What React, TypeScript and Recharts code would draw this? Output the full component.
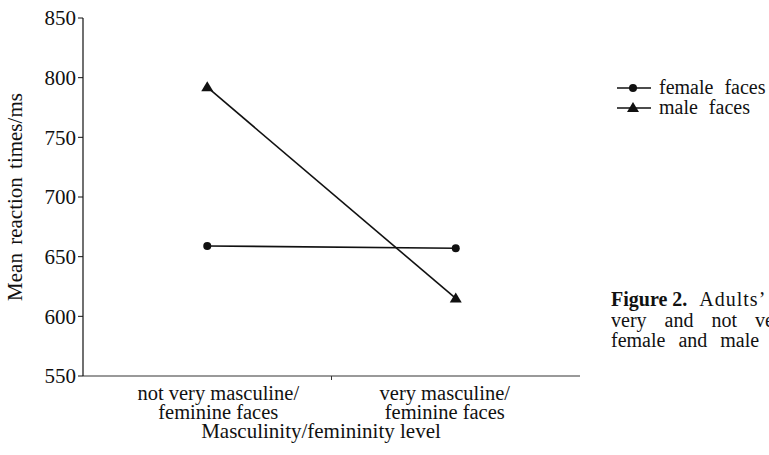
import { LineChart, Line, XAxis, YAxis } from 'recharts';

const categories = ['not very masculine/\nfeminine faces', 'very masculine/\nfeminine faces'];
const seriesNames = ['female faces', 'male faces'];
const femaleFaces = [659, 657];
const maleFaces = [792, 615];
const yTicks = [550, 600, 650, 700, 750, 800, 850];

const data = categories.map((c, i) => ({ pos: i + 0.5, label: c, female: femaleFaces[i], male: maleFaces[i] }));

const font = '"Liberation Serif", "DejaVu Serif", serif';

function Triangle(props: any) {
  const { cx, cy } = props;
  if (cx == null || cy == null) return null;
  return <polygon points={`${cx},${cy - 6} ${cx - 6},${cy + 4} ${cx + 6},${cy + 4}`} fill="#111" />;
}

function Circle(props: any) {
  const { cx, cy } = props;
  if (cx == null || cy == null) return null;
  return <circle cx={cx} cy={cy} r={4} fill="#111" />;
}

function XTick(props: any) {
  const { x, y, payload } = props;
  if (payload.value === 1) {
    return <line x1={x} x2={x} y1={y} y2={y + 4} stroke="#333" strokeWidth={1} />;
  }
  const idx = Math.floor(payload.value);
  const lines = categories[idx].split('\n');
  const shift = idx === 0 ? 11 : -11;
  return (
    <text x={x + shift} y={y} textAnchor="middle" fontFamily={font} fontSize={20.5} fill="#111">
      {lines.map((l, i) => (
        <tspan key={i} x={x + shift} dy={i === 0 ? 24 : 18.5}>{l}</tspan>
      ))}
    </text>
  );
}

function ChartLegend() {
  return (
    <svg width={160} height={44} style={{ position: 'absolute', left: 615, top: 76, overflow: 'visible' }}>
      {seriesNames.map((name, i) => {
        const cy = 12 + i * 20;
        return (
          <g key={name}>
            <line x1={2} x2={36} y1={cy} y2={cy} stroke="#111" strokeWidth={1.6} />
            {i === 1 ? <Triangle cx={18} cy={cy} /> : <Circle cx={18} cy={cy} />}
            <text x={44} y={cy + 6} fontFamily={font} fontSize={20} fill="#111" wordSpacing={6}>{name}</text>
          </g>
        );
      })}
    </svg>
  );
}

export default function App() {
  return (
    <div style={{ position: 'absolute', left: 0, top: 0, width: 769, height: 455, background: '#fff', overflow: 'hidden' }}>
      <LineChart width={769} height={455} data={data} margin={{ top: 18, right: 189, left: 0, bottom: 0 }}>
        <XAxis
          dataKey="pos"
          type="number"
          domain={[0, 2]}
          ticks={[0.5, 1, 1.5]}
          tick={<XTick />}
          tickLine={false}
          tickSize={0}
          tickMargin={0}
          height={79}
          axisLine={{ stroke: '#777', strokeWidth: 1.5 }}
          interval={0}
          label={{
            content: () => (
              <text x={321} y={438} textAnchor="middle" fontFamily={font} fontSize={21} fill="#111">
                Masculinity/femininity level
              </text>
            ),
          }}
        />
        <YAxis
          domain={[550, 850]}
          ticks={yTicks}
          width={83}
          tickSize={5}
          tickMargin={2}
          tick={{ fill: '#111', fontSize: 21, fontFamily: font }}
          axisLine={{ stroke: '#111', strokeWidth: 1.2 }}
          tickLine={{ stroke: '#111' }}
          label={{
            content: () => (
              <text x={22} y={197} transform="rotate(-90 22 197)" textAnchor="middle" fontFamily={font} fontSize={21} fill="#111" wordSpacing={3}>
                Mean reaction times/ms
              </text>
            ),
          }}
        />
        <Line dataKey="female" name={seriesNames[0]} stroke="#111" strokeWidth={1.6} dot={<Circle />} isAnimationActive={false} />
        <Line dataKey="male" name={seriesNames[1]} stroke="#111" strokeWidth={1.6} dot={<Triangle />} isAnimationActive={false} />
      </LineChart>
      <ChartLegend />
      <div
        style={{
          position: 'absolute',
          left: 611,
          top: 289,
          width: 158,
          overflow: 'hidden',
          whiteSpace: 'nowrap',
          fontFamily: font,
          fontSize: 20,
          lineHeight: '20.5px',
          color: '#111',
        }}
      >
        <div><b>Figure 2.</b><span style={{ marginLeft: 12, letterSpacing: 1 }}>Adults’ reaction times to</span></div>
        <div style={{ wordSpacing: 13 }}>very and not very masculine/feminine</div>
        <div style={{ wordSpacing: 8 }}>female and male faces.</div>
      </div>
    </div>
  );
}
